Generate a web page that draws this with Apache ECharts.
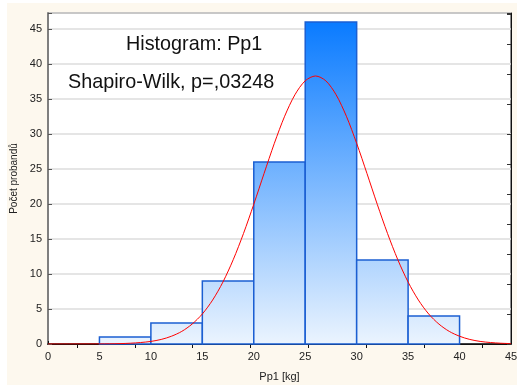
<!DOCTYPE html>
<html>
<head>
<meta charset="utf-8">
<script src="https://cdn.jsdelivr.net/npm/echarts@6/dist/echarts.min.js"></script>
<style>
html,body{margin:0;padding:0;background:#fff;}
#c{width:517px;height:387px;}
</style>
</head>
<body>
<div id="c"></div>
<script>
// ---- data ----
var binStart = [5, 10, 15, 20, 25, 30, 35];
var binEnd   = [10, 15, 20, 25, 30, 35, 40];
var counts   = [1, 3, 9, 26, 46, 12, 4];
var curveX = [0,1,2,3,4,5,6,7,8,9,10,11,12,13,14,15,16,17,18,19,20,21,22,23,24,25,26,27,28,29,30,31,32,33,34,35,36,37,38,39,40,41,42,43,44,45];
var curveY = [0,0,0,0.003,0.006,0.013,0.028,0.056,0.11,0.21,0.37,0.65,1.11,1.8,2.84,4.29,6.28,8.85,12.04,15.79,19.97,24.37,28.68,32.55,35.62,37.61,38.3,37.61,35.62,32.55,28.68,24.37,19.97,15.79,12.04,8.85,6.28,4.29,2.84,1.8,1.11,0.65,0.37,0.21,0.11,0.056];
var xTicks = [0,5,10,15,20,25,30,35,40,45];
var yTicks = [0,5,10,15,20,25,30,35,40,45];
var titleText = 'Histogram: Pp1';
var subText = 'Shapiro-Wilk, p=,03248';
var xName = 'Pp1 [kg]';
var yName = 'Počet probandů';
var topCats = ['a','b','c','d','e','f','g','h'];

var FONT = 'Arial, "Liberation Sans", sans-serif';
var chart = echarts.init(document.getElementById('c'));

var barData = binStart.map(function(s, i){ return [s, binEnd[i], counts[i]]; });
var curveData = curveX.map(function(x, i){ return [x, curveY[i]]; });
var maxCount = Math.max.apply(null, counts);

var option = {
  backgroundColor: '#ffffff',
  animation: false,
  graphic: [
    {type:'rect', z:-10, shape:{x:7, y:3, width:510, height:382}, style:{fill:'#fdf8ee'}},
    {type:'text', z:100, x:126, y:44.5, style:{text:titleText, font:'19.8px '+FONT, fill:'#111', verticalAlign:'middle'}},
    {type:'text', z:100, x:68, y:82.5, style:{text:subText, font:'19.8px '+FONT, fill:'#111', verticalAlign:'middle'}}
  ],
  grid: {left:48, right:6, top:13, bottom:43, containLabel:false, outerBoundsMode:'none',
         show:true, backgroundColor:'#ffffff', borderColor:'#1a1a1a', borderWidth:1},
  xAxis: [
    {type:'value', min:0, max:45, interval:5, position:'bottom',
     name:xName, nameLocation:'middle', nameGap:27,
     nameTextStyle:{fontFamily:FONT, fontSize:11, color:'#222'},
     axisLine:{show:true, lineStyle:{color:'#111', width:1.5}},
     axisTick:{show:true, inside:true, length:3, lineStyle:{color:'#111'}},
     axisLabel:{fontFamily:FONT, fontSize:11, color:'#222', margin:7,
       formatter:function(v){ return xTicks.indexOf(v) >= 0 ? String(v) : ''; }},
     splitLine:{show:false}},
    {type:'category', data:topCats, position:'top', boundaryGap:true,
     axisLine:{show:true, lineStyle:{color:'#111'}},
     axisTick:{show:true, inside:true, alignWithLabel:true, length:4, lineStyle:{color:'#111'}},
     axisLabel:{show:false}, splitLine:{show:false}}
  ],
  yAxis: [
    {type:'value', min:0, max:47.3, interval:5, position:'left',
     name:yName, nameLocation:'middle', nameGap:26,
     nameTextStyle:{fontFamily:FONT, fontSize:10, color:'#222'},
     axisLine:{show:true, lineStyle:{color:'#7f7f7f', width:2}},
     axisTick:{show:true, inside:true, length:4, lineStyle:{color:'#555'}},
     axisLabel:{fontFamily:FONT, fontSize:11, color:'#222', margin:6,
       formatter:function(v){ return yTicks.indexOf(v) >= 0 ? String(v) : ''; }},
     splitLine:{show:true, lineStyle:{color:'#dcdcdc', width:1.5}}},
    {type:'value', min:0, max:11.033, interval:1, position:'right',
     axisLine:{show:true, lineStyle:{color:'#111'}},
     axisTick:{show:true, inside:true, length:4, lineStyle:{color:'#333'}},
     axisLabel:{show:false}, splitLine:{show:false}}
  ],
  series: [
    {type:'custom', xAxisIndex:0, yAxisIndex:0, data:barData, z:3,
     renderItem:function(params, api){
       var p0 = api.coord([api.value(0), 0]);
       var p1 = api.coord([api.value(1), api.value(2)]);
       var yTop = api.coord([0, maxCount])[1];
       var yBot = api.coord([0, 0])[1];
       return {
         type:'rect',
         shape:{x:p0[0], y:p1[1], width:p1[0]-p0[0], height:p0[1]-p1[1]},
         style:{
           fill:{type:'linear', x:0, y:yTop, x2:0, y2:yBot, global:true,
             colorStops:[{offset:0, color:'#0a7bff'},{offset:1, color:'#ebf4fe'}]},
           stroke:'#1b5fd2', lineWidth:1.5
         }
       };
     }},
    {type:'line', xAxisIndex:0, yAxisIndex:0, data:curveData, smooth:0.3, showSymbol:false,
     symbol:'none', z:5, lineStyle:{color:'#ff0000', width:1}}
  ]
};
chart.setOption(option);
</script>
</body>
</html>
